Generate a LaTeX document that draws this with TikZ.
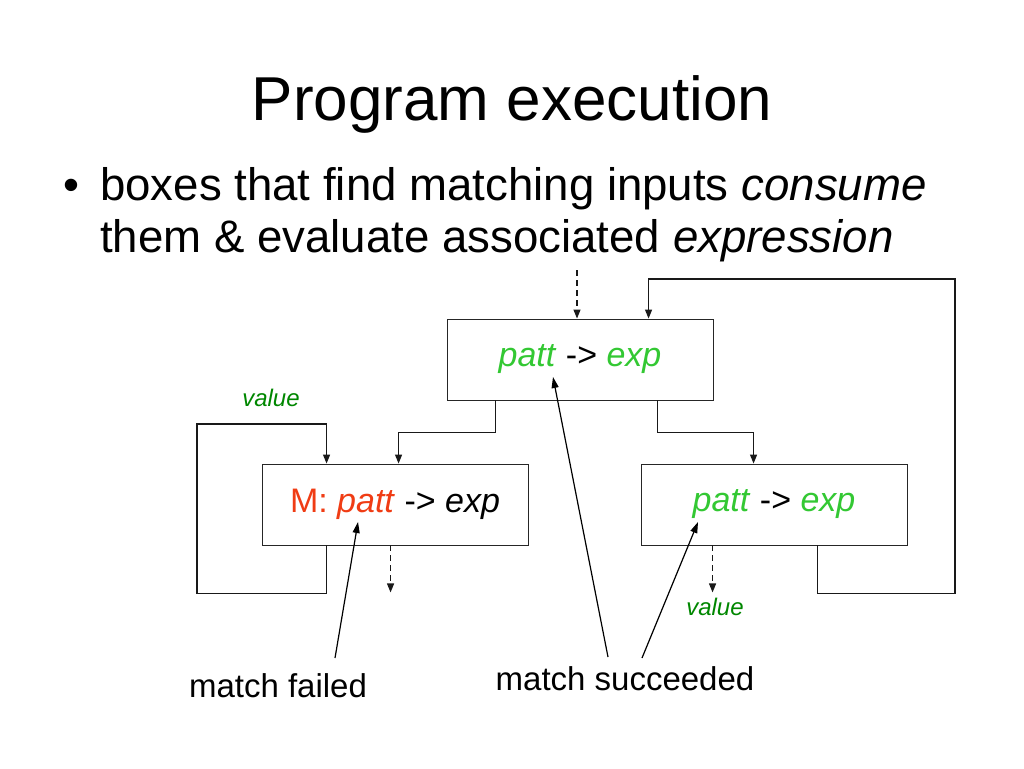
\documentclass[tikz,border=0pt]{standalone}
\usepackage{fontspec}
\setmainfont{Liberation Sans}
\usetikzlibrary{arrows.meta,calc}
\definecolor{brgreen}{RGB}{51,200,51}
\definecolor{dkgreen}{RGB}{0,135,0}
\definecolor{mred}{RGB}{240,60,20}
\tikzset{
  box/.style={draw=black!85, line width=0.9pt, minimum width=266pt, minimum height=81pt, inner sep=0pt, font=\fontsize{34}{40}\selectfont},
  conn/.style={draw=black!90, line width=1.2pt, -{Triangle[length=9pt,width=7pt]}},
  dconn/.style={conn, dash pattern=on 6pt off 4pt},
  pointer/.style={draw=black, line width=1.2pt, -{Triangle[length=11pt,width=7pt]}},
  vallabel/.style={text=dkgreen, font=\fontsize{24}{28}\selectfont\itshape, inner sep=0pt},
  biglabel/.style={font=\fontsize{33}{38}\selectfont, inner sep=0pt, anchor=base},
  bullettext/.style={font=\fontsize{45.6}{52}\selectfont, inner sep=0pt},
}
\begin{document}
\begin{tikzpicture}[x=1pt,y=-1pt]
\useasboundingbox[fill=white] (0,0) rectangle (1024,768);
% title and bullet
\node[font=\fontsize{62}{70}\selectfont, inner sep=0pt, anchor=base] (title) at (512,120) {Program execution};
\node[bullettext, anchor=base] (bul) at (71,200) {•};
\node[bullettext, anchor=base west] (l1) at (100,200) {boxes that find matching inputs \textit{consume}};
\node[bullettext, anchor=base west] (l2) at (100,252) {them \& evaluate associated \textit{expression}};
% boxes
\node[box] (top) at (580,359.5) {\textcolor{brgreen}{\textit{patt}} -> \textcolor{brgreen}{\textit{exp}}};
\node[box] (lbox) at (395,504.5) {\textcolor{mred}{M: \textit{patt}} -> \textit{exp}};
\node[box] (rbox) at (774,504.5) {\textcolor{brgreen}{\textit{patt}} -> \textcolor{brgreen}{\textit{exp}}};
% input to top box
\coordinate (in) at (577,270);
\draw[dconn] (in) -- (in |- top.north);
% top box to lower boxes
\draw[conn] ([xshift=49pt]top.south west) -- ++(0,32) -| ([xshift=137pt]lbox.north west);
\draw[conn] ([xshift=-56pt]top.south east) -- ++(0,32) -| ([xshift=113pt]rbox.north west);
% left loop
\coordinate (lp) at (197,424);
\draw[conn] ([xshift=65pt]lbox.south west) -- ++(0,48) -| (lp) -| ([xshift=65pt]lbox.north west);
\node[vallabel] (v1) at (271,398) {value};
% right feedback
\coordinate (fb) at (955,279);
\draw[conn] ([xshift=177pt]rbox.south west) -- ++(0,48) -| (fb) -| ([xshift=202pt]top.north west);
% dashed outputs
\draw[dconn] ([xshift=129pt]lbox.south west) -- ++(0,47);
\draw[dconn] ([xshift=72pt]rbox.south west) -- ++(0,47);
\node[vallabel] (v2) at (715,607) {value};
% labels and pointers
\node[biglabel] (mf) at (278,697) {match failed};
\node[biglabel] (ms) at (625,690) {match succeeded};
\coordinate (mfa) at (335,658);
\coordinate (mfb) at (358,522);
\draw[pointer] (mfa) -- (mfb);
\coordinate (msa) at (608,657);
\coordinate (msb) at (553,377);
\draw[pointer] (msa) -- (msb);
\coordinate (msc) at (642,658);
\coordinate (msd) at (698,522);
\draw[pointer] (msc) -- (msd);
\end{tikzpicture}
\end{document}
